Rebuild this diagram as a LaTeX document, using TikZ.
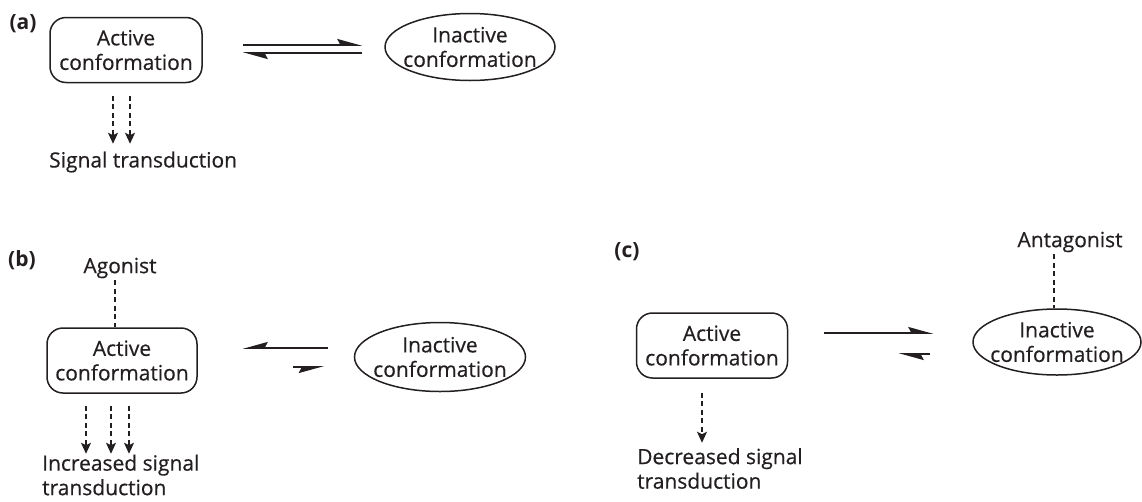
\documentclass[tikz,border=0pt]{standalone}
\usepackage{fontspec}
\setmainfont{Open Sans}[FakeBold=0.5]
\newfontfamily\panelfont{Open Sans Bold}
\usetikzlibrary{arrows.meta,shapes.geometric}

\definecolor{ink}{HTML}{231F20}

\tikzset{
  every node/.style={font=\fontsize{21}{24.5}\selectfont, text=ink},
  lbl/.style={align=center, inner sep=0pt},
  panel/.style={inner sep=0pt, font=\fontsize{21}{24}\panelfont},
  actbox/.style={draw=ink, line width=1.5pt, rounded corners=16pt,
    minimum width=152pt, minimum height=65pt, inner sep=0pt, align=center},
  inactell/.style={draw=ink, line width=1.5pt, ellipse, inner sep=0pt,
    minimum width=170pt, minimum height=67pt},
  sig/.style={draw=ink, line width=1.4pt, dash pattern=on 5pt off 3.5pt,
    -{Stealth[length=11pt,width=10pt,inset=2.5pt]}},
  bind/.style={draw=ink, line width=1.4pt, dash pattern=on 5pt off 3.5pt},
  harpl/.style={draw=ink, line width=1.6pt,
    -{Stealth[harpoon,length=22pt,width=12pt,inset=3pt]}},
  harpr/.style={draw=ink, line width=1.6pt,
    -{Stealth[harpoon,swap,length=22pt,width=12pt,inset=3pt]}},
}

\begin{document}
\begin{tikzpicture}[x=1pt,y=-1pt]
\useasboundingbox (0,0) rectangle (1142,501);

%=== (a) resting equilibrium ===
\node[panel] (labA) at (23,24) {(a)};
\node[actbox] (actA) at (126,50) {Active\\conformation};
\node[inactell] (inactA) at (470,47) {};
\node[lbl] (inactAtxt) at (inactA) {Inactive\\conformation};
\node[lbl, anchor=west] (sigA) at (49,162) {Signal transduction};

% equilibrium harpoons
\draw[harpl] ([xshift=40pt,yshift=5pt]actA.east) -- ([xshift=-22pt,yshift=2pt]inactA.west);
\draw[harpl] ([xshift=-22pt,yshift=-6pt]inactA.west) -- ([xshift=40pt,yshift=-3pt]actA.east);

% signalling
\foreach \dx in {-13,4}
  \draw[sig] ([xshift=\dx pt,yshift=-12.5pt]actA.south) -- ([xshift=\dx pt,yshift=-60.5pt]actA.south);

%=== (b) agonist shifts to active ===
\node[panel] (labB) at (22,260) {(b)};
\node[inner sep=2pt] (agon) at (120,268) {Agonist};
\node[actbox, minimum width=150pt] (actB) at (122,360.5) {Active\\conformation};
\node[inactell, minimum width=171pt, minimum height=69pt] (inactB) at (440,357) {};
\node[lbl] (inactBtxt) at (inactB) {Inactive\\conformation};
\node[lbl, anchor=west, align=left] (incB) at (42,475) {Increased signal\\transduction};

\draw[bind] ([xshift=-5pt]agon.south) -- ([xshift=-5pt]agon.south |- actB.north);

% long arrow towards active
\draw[harpr] ([xshift=-26pt,yshift=9pt]inactB.west) -- ([xshift=45pt,yshift=12.5pt]actB.east);
\draw[harpr] ([xshift=95pt,yshift=-6.5pt]actB.east) -- ([xshift=-30pt,yshift=-10pt]inactB.west);

\foreach \dx in {-36,-11,7}
  \draw[sig] ([xshift=\dx pt,yshift=-12pt]actB.south) -- ([xshift=\dx pt,yshift=-60pt]actB.south);

%=== (c) antagonist shifts to inactive ===
\node[panel] (labC) at (627,252) {(c)};
\node[inner sep=2pt] (antag) at (1070,242) {Antagonist};
\node[actbox, minimum width=151pt] (actC) at (712,345.5) {Active\\conformation};
\node[inactell, minimum width=168pt, minimum height=66pt] (inactC) at (1057,342) {};
\node[lbl] (inactCtxt) at (inactC) {Inactive\\conformation};
\node[lbl, anchor=west, align=left] (decC) at (637,468.5) {Decreased signal\\transduction};

\draw[bind] ([xshift=-16pt]antag.south) -- ([xshift=-16pt]antag.south |- inactC.north);

% long arrow towards inactive
\draw[harpl] ([xshift=35.5pt,yshift=12.5pt]actC.east) -- ([xshift=-39pt,yshift=9pt]inactC.west);
\draw[harpl] ([xshift=-42pt,yshift=-12pt]inactC.west) -- ([xshift=110.5pt,yshift=-8.5pt]actC.east);

\draw[sig] ([xshift=-10pt,yshift=-14pt]actC.south) -- ([xshift=-10pt,yshift=-64pt]actC.south);

\end{tikzpicture}
\end{document}
